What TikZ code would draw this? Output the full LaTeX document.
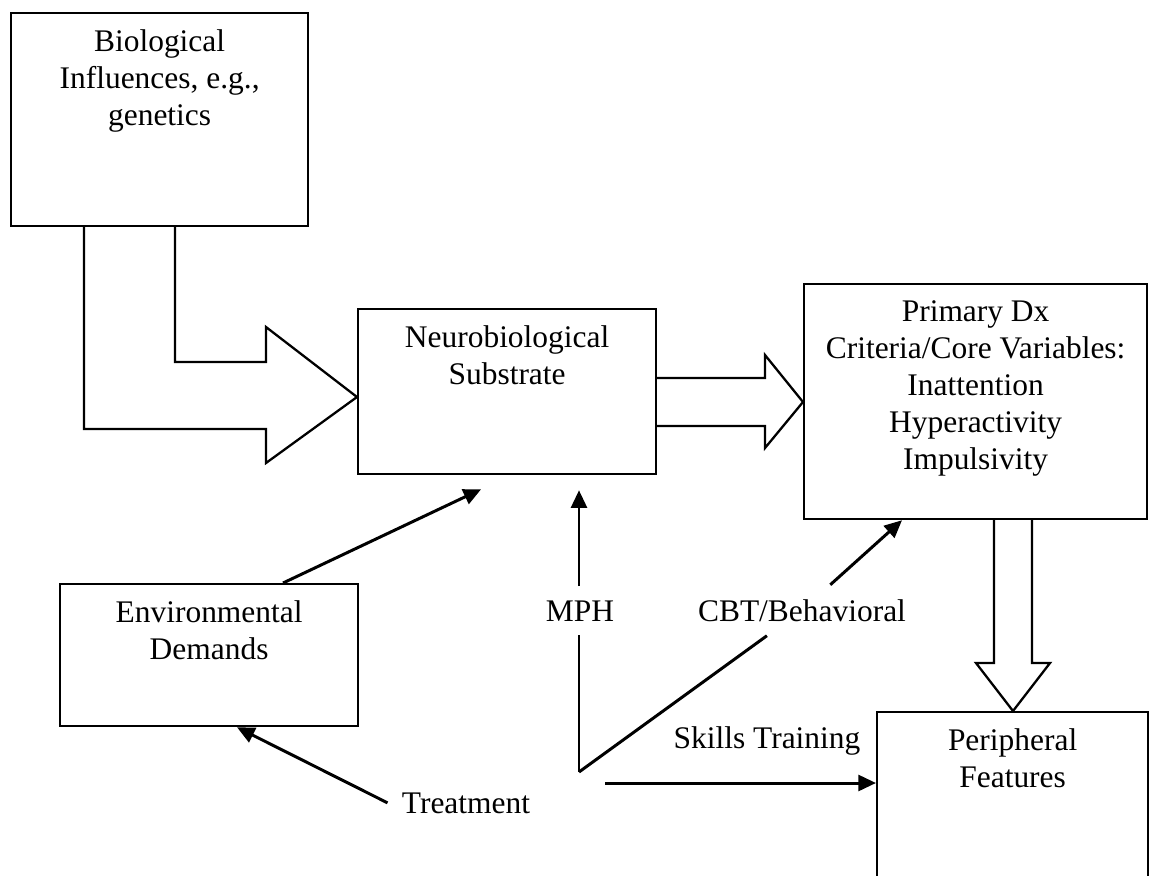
\documentclass[tikz,border=0pt]{standalone}
\usepackage{fontspec}
\setmainfont{Liberation Serif}
\usetikzlibrary{positioning, calc, arrows.meta}

\begin{document}
\begin{tikzpicture}[
    x=0.02cm, y=-0.02cm,
    font=\fontsize{17.9pt}{21pt}\selectfont,
    box/.style={draw, line width=1.3pt, anchor=north west, inner sep=0pt},
    boxtext/.style={anchor=north, align=center, inner sep=10pt},
    fatarrow/.style={draw, line width=1.3pt, line join=miter},
    thinarrow/.style={line width=1.7pt, -{Triangle[length=10pt,width=9pt]}},
    plainline/.style={line width=1.7pt},
    tag/.style={inner sep=8pt, anchor=base},
  ]
    \useasboundingbox (0,0) rectangle (1150,876);
    \clip (0,0) rectangle (1150,876);

    % Boxes
    \node[box, minimum width=5.94cm, minimum height=4.26cm,
          label={[boxtext]north:{Biological\\Influences, e.g.,\\genetics}}] (bio) at (10,12) {};
    \node[box, minimum width=5.96cm, minimum height=3.30cm,
          label={[boxtext]north:{Neurobiological\\Substrate}}] (neuro) at (357,308) {};
    \node[box, minimum width=6.86cm, minimum height=4.70cm,
          label={[boxtext]north:{Primary Dx\\Criteria/Core Variables:\\Inattention\\Hyperactivity\\Impulsivity}}] (primary) at (803,283) {};
    \node[box, minimum width=5.96cm, minimum height=2.84cm,
          label={[boxtext]north:{Environmental\\Demands}}] (env) at (59,583) {};
    \node[box, minimum width=5.42cm, minimum height=3.78cm,
          label={[boxtext]north:{Peripheral\\Features}}] (periph) at (876,711) {};

    % Big arrows
    \draw[fatarrow] (84,225) -- (84,429) -- (266,429) -- (266,463) -- (357,397)
                    -- (266,327) -- (266,362) -- (175,362) -- (175,225);
    \draw[fatarrow] (655,378) -- (765,378) -- (765,355) -- (803,402)
                    -- (765,448) -- (765,426) -- (655,426);
    \draw[fatarrow] (994,518) -- (994,663) -- (976,663) -- (1013,711)
                    -- (1050,663) -- (1032,663) -- (1032,518);

    % Treatment labels
    \coordinate (split) at (579,772);
    \coordinate (skillstart) at (605,783);
    \node[tag] (mph) at (580,621) {MPH};
    \node[tag] (cbt) at (802,621) {CBT/Behavioral};
    \node[tag] (skills) at (767,748) {Skills Training};
    \node[tag] (treat) at (466,813) {Treatment};

    % Connectors
    \draw[thinarrow] ($(env.north west)+(224,0)$) -- ($(neuro.south)+(-26,14)$);
    \draw[plainline] (split) -- (split |- mph.south);
    \draw[thinarrow] (split |- mph.north) -- ($(neuro.south -| split)+(0,15)$);
    \draw[plainline] (split) -- (cbt);
    \draw[thinarrow] (cbt) -- ($(primary.south west)+(99,0)$);
    \draw[thinarrow] (skillstart) -- (skillstart -| periph.west);
    \draw[thinarrow] (treat.west) -- ($(env.south west)+(178,0)$);
\end{tikzpicture}
\end{document}
